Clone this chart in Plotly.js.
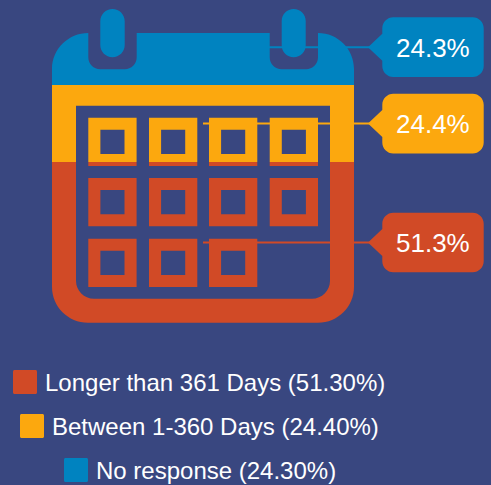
<!DOCTYPE html>
<html>
<head>
<meta charset="utf-8">
<script src="https://cdn.plot.ly/plotly-3.0.1.min.js"></script>
<style>html,body{margin:0;padding:0;background:#394780;overflow:hidden}#chart{width:491px;height:485px}</style>
</head>
<body>
<div id="chart"></div>
<script>
// ---- data ----
const categories = ["Longer than 361 Days", "Between 1-360 Days", "No response"];
const values = [51.3, 24.4, 24.3];
const colors = ["#D14A26", "#FCA80E", "#0083C0"];

// ---- page geometry (pixels) ----
const W = 491, H = 485, BG = "#394780";
const FONT = "Liberation Sans, Arial, sans-serif";
const iconL = 52, iconR = 354, iconT = 9, iconB = 323;
const pct = (iconB - iconT) / 100;         // pixels per percent

const K = 0.5523;
// rounded rectangle, clockwise on screen; r = [tl, tr, br, bl]
function rrect(x0, y0, x1, y1, r, ccw) {
  const [a, b, c, d] = Array.isArray(r) ? r : [r, r, r, r];
  const k = 1 - K;
  if (!ccw) return `M${x0 + a},${y0} L${x1 - b},${y0} C${x1 - b * k},${y0} ${x1},${y0 + b * k} ${x1},${y0 + b} ` +
    `L${x1},${y1 - c} C${x1},${y1 - c * k} ${x1 - c * k},${y1} ${x1 - c},${y1} ` +
    `L${x0 + d},${y1} C${x0 + d * k},${y1} ${x0},${y1 - d * k} ${x0},${y1 - d} ` +
    `L${x0},${y0 + a} C${x0},${y0 + a * k} ${x0 + a * k},${y0} ${x0 + a},${y0} Z `;
  return `M${x0 + a},${y0} C${x0 + a * k},${y0} ${x0},${y0 + a * k} ${x0},${y0 + a} ` +
    `L${x0},${y1 - d} C${x0},${y1 - d * k} ${x0 + d * k},${y1} ${x0 + d},${y1} ` +
    `L${x1 - c},${y1} C${x1 - c * k},${y1} ${x1},${y1 - c * k} ${x1},${y1 - c} ` +
    `L${x1},${y0 + b} C${x1},${y0 + b * k} ${x1 - b * k},${y0} ${x1 - b},${y0} Z `;
}

// icon outline with the two ring notches, counter-clockwise on screen (cuts the mask)
function bodyOutline() {
  const t = 33, R = 36, nb = 69.3, nr = 12, k = 1 - K;
  const n1a = 88.3, n1b = 136.7, n2a = 269.7, n2b = 318;
  const L = iconL, Rr = iconR, B = 322.7;
  return `M${n1a},${t} C${n1a - R * K},${t} ${L},${t + R * k} ${L},${t + R} ` +
    `L${L},${B - R} C${L},${B - R * k} ${L + R * k},${B} ${L + R},${B} ` +
    `L${Rr - R},${B} C${Rr - R * k},${B} ${Rr},${B - R * k} ${Rr},${B - R} ` +
    `L${Rr},${t + R} C${Rr},${t + R * k} ${Rr - R * k},${t} ${n2b},${t} ` +
    `L${n2b},${nb - nr} C${n2b},${nb - nr * k} ${n2b - nr * k},${nb} ${n2b - nr},${nb} ` +
    `L${n2a + nr},${nb} C${n2a + nr * k},${nb} ${n2a},${nb - nr * k} ${n2a},${nb - nr} L${n2a},${t} ` +
    `L${n1b},${t} L${n1b},${nb - nr} C${n1b},${nb - nr * k} ${n1b - nr * k},${nb} ${n1b - nr},${nb} ` +
    `L${n1a + nr},${nb} C${n1a + nr * k},${nb} ${n1a},${nb - nr * k} ${n1a},${nb - nr} Z `;
}

// mask: everything of the icon's box that is NOT calendar
let maskPath = rrect(iconL - 2, iconT - 2, iconR + 2, iconB + 2, 0, false);
maskPath += bodyOutline();
maskPath += rrect(76, 105.7, 330, 298.7, [0, 0, 18, 18], false);
maskPath += rrect(100.3, 9, 124.7, 57.3, 12.2, true);
maskPath += rrect(281.7, 9, 305.7, 57.3, 12, true);
const cols = [88.3, 149, 209, 269.7], rows = [117.7, 178, 238.7], cell = 48.3, inset = 12.1;
rows.forEach((ry, i) => cols.forEach((cx, j) => {
  if (i === 2 && j === 3) return;
  maskPath += rrect(cx, ry, cx + cell, ry + cell, 0, true);
  maskPath += rrect(cx + inset, ry + inset, cx + cell - inset, ry + cell - inset, 0, false);
}));

const shapes = [{type: "path", xref: "x", yref: "y2", path: maskPath, fillcolor: BG, line: {width: 0}, layer: "above"}];
const annotations = [];

// band midpoints derived from the data
let cum = 0;
const mids = values.map(v => { const m = cum + v / 2; cum += v; return m; });
const iconMidX = (iconL + iconR) / 2, tipX = 368, boxL = 382.3, boxR = 483.7;

values.forEach((v, i) => {
  const cy = iconB - mids[i] * pct;
  shapes.push({type: "line", xref: "x", yref: "y", x0: iconMidX, x1: tipX + 2, y0: mids[i], y1: mids[i],
    line: {color: colors[i], width: 2}, layer: "above"});
  const t = cy - 29.8, b = cy + 29.8, r = 11, k = 1 - K;
  const path = `M${boxL + r},${t} L${boxR - r},${t} C${boxR - r * k},${t} ${boxR},${t + r * k} ${boxR},${t + r} ` +
    `L${boxR},${b - r} C${boxR},${b - r * k} ${boxR - r * k},${b} ${boxR - r},${b} ` +
    `L${boxL + r},${b} C${boxL + r * k},${b} ${boxL},${b - r * k} ${boxL},${b - r} ` +
    `L${boxL},${cy + 13.5} L${tipX},${cy} L${boxL},${cy - 13.5} ` +
    `L${boxL},${t + r} C${boxL},${t + r * k} ${boxL + r * k},${t} ${boxL + r},${t} Z`;
  shapes.push({type: "path", xref: "x", yref: "y2", path, fillcolor: colors[i], line: {width: 0}, layer: "above"});
  annotations.push({xref: "x", yref: "y2", x: 433, y: cy + 0.5, text: v.toFixed(1) + "%", showarrow: false,
    xanchor: "center", yanchor: "middle", borderpad: 0, font: {family: FONT, size: 26, color: "#FFFFFF"}});
});

// legend rows, centred as in the source
const legendBoxX = [13, 20, 64], legendBoxY = [370, 414, 458], legendTextX = [44, 51, 95];
categories.forEach((c, i) => {
  const x = legendBoxX[i], y = legendBoxY[i];
  shapes.push({type: "path", xref: "x", yref: "y2", path: rrect(x, y, x + 24, y + 24, 1.5, false),
    fillcolor: colors[i], line: {width: 0}, layer: "above"});
  annotations.push({xref: "x", yref: "y2", x: legendTextX[i], y: y + 12.5, showarrow: false, borderpad: 0,
    text: `${c} (${values[i].toFixed(2)}%)`, xanchor: "left", yanchor: "middle",
    font: {family: FONT, size: 24, color: "#FFFFFF"}});
});

// the calendar's fill is a stacked bar that the mask above trims to the icon
const traces = categories.map((c, i) => ({
  type: "bar", name: c, x: [iconMidX], y: [values[i]], width: [iconR - iconL],
  marker: {color: colors[i], line: {width: 0}}, hoverinfo: "name+y", showlegend: false
}));
traces.push({type: "scatter", mode: "markers", x: [0], y: [0], yaxis: "y2", marker: {opacity: 0}, hoverinfo: "skip", showlegend: false});

const layout = {
  width: W, height: H, margin: {l: 0, r: 0, t: 0, b: 0}, barmode: "stack", bargap: 0,
  paper_bgcolor: BG, plot_bgcolor: BG, showlegend: false,
  xaxis: {range: [0, W], visible: false, fixedrange: true},
  yaxis: {range: [(iconB - H) / pct, iconB / pct], visible: false, fixedrange: true},
  yaxis2: {range: [H, 0], overlaying: "y", visible: false, fixedrange: true},
  shapes, annotations
};
Plotly.newPlot("chart", traces, layout, {displayModeBar: false, staticPlot: true});
</script>
</body>
</html>
